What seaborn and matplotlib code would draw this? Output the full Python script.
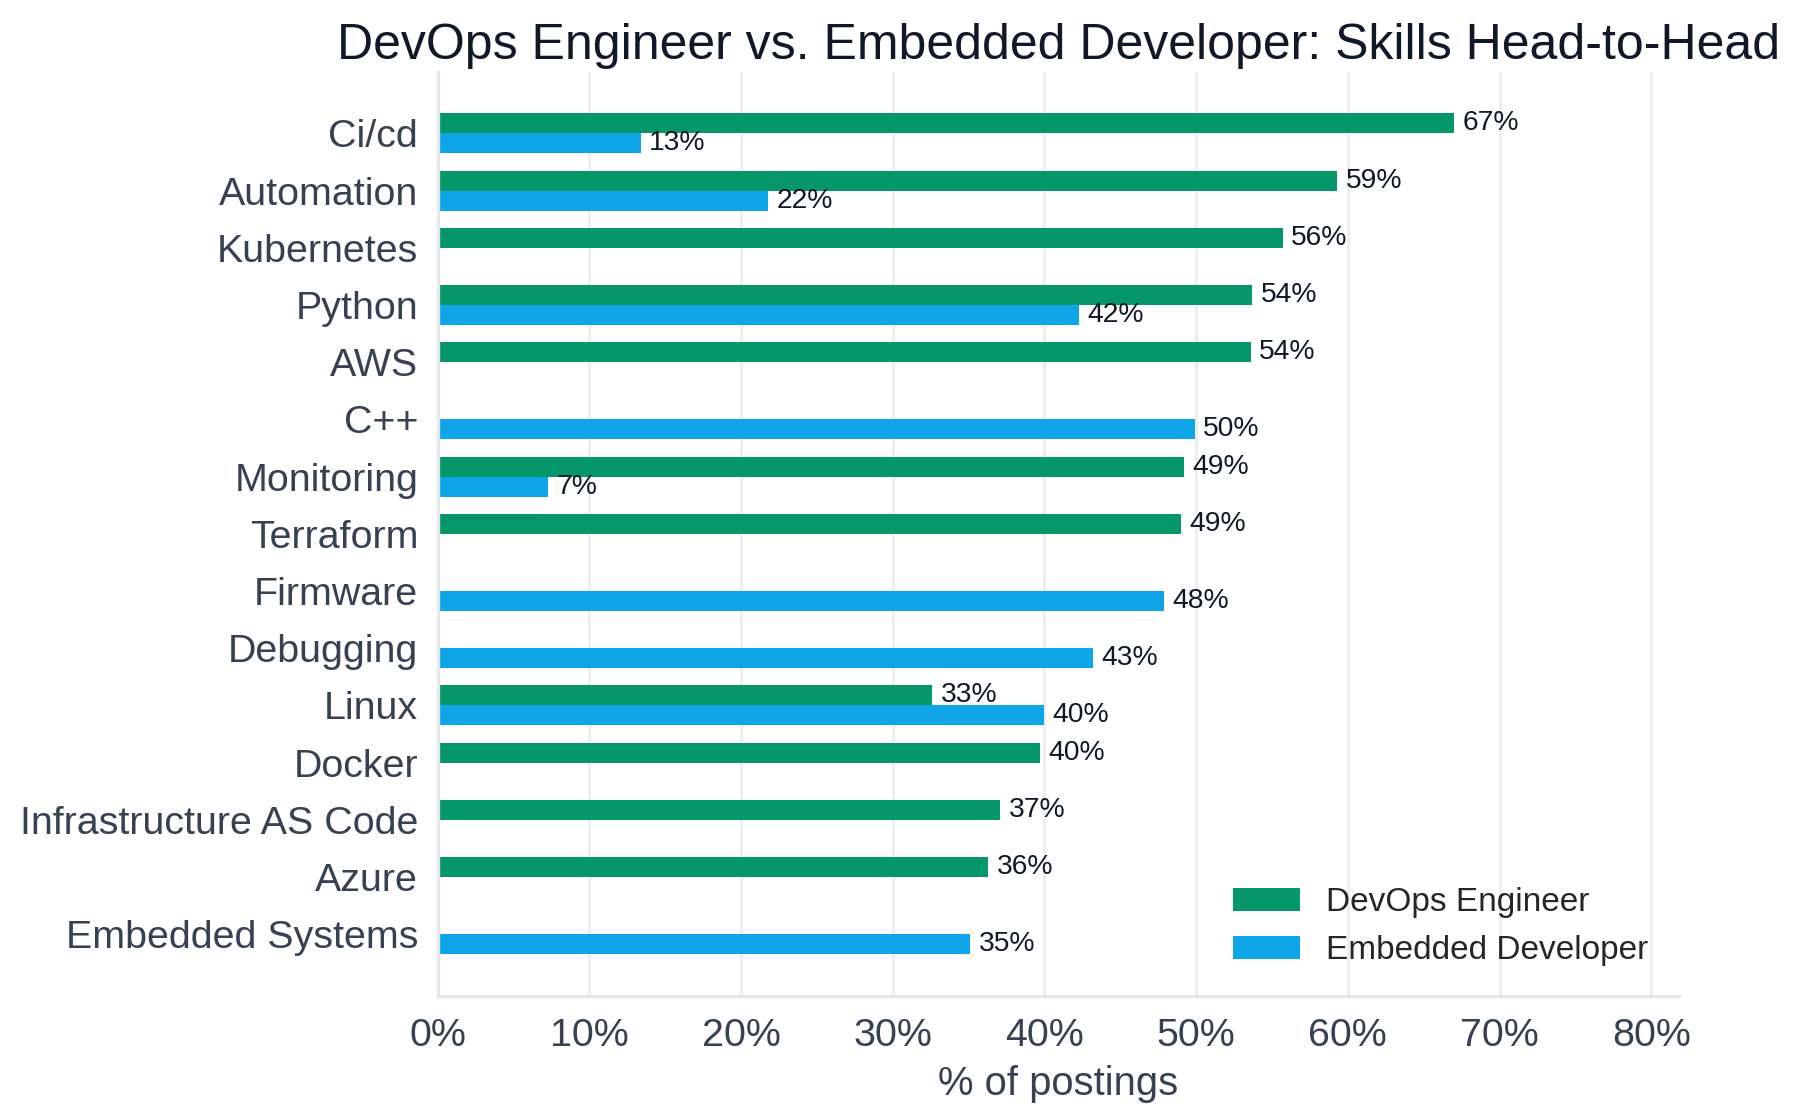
import matplotlib
matplotlib.use("Agg")
import matplotlib.pyplot as plt
from matplotlib.ticker import PercentFormatter
import numpy as np
import pandas as pd
import seaborn as sns

skills = [
    "Ci/cd", "Automation", "Kubernetes", "Python", "AWS", "C++",
    "Monitoring", "Terraform", "Firmware", "Debugging", "Linux",
    "Docker", "Infrastructure AS Code", "Azure", "Embedded Systems",
]
devops = [67.0, 59.3, 55.7, 53.7, 53.6, np.nan, 49.2, 49.0,
          np.nan, np.nan, 32.6, 39.7, 37.1, 36.3, np.nan]
embedded = [13.4, 21.8, np.nan, 42.3, np.nan, 49.9, 7.3, np.nan,
            47.9, 43.2, 40.0, np.nan, np.nan, np.nan, 35.1]
roles = ["DevOps Engineer", "Embedded Developer"]
colors = ["#059669", "#0ea5e9"]

df = pd.concat([
    pd.DataFrame({"skill": skills, "pct": devops, "role": roles[0]}),
    pd.DataFrame({"skill": skills, "pct": embedded, "role": roles[1]}),
]).dropna()

sns.set_theme(style="white")
plt.rcParams["font.family"] = ["Liberation Sans", "DejaVu Sans"]

fig, ax = plt.subplots(figsize=(9.005, 5.595), dpi=200)
fig.subplots_adjust(left=0.243, right=0.932, top=0.936, bottom=0.110)

sns.barplot(
    data=df, x="pct", y="skill", hue="role",
    order=skills, hue_order=roles, palette=colors,
    width=0.7, orient="h", ax=ax, saturation=1,
    linewidth=0, err_kws={"linewidth": 0},
)

# value labels at the end of each bar
for cont in ax.containers:
    ax.bar_label(cont, fmt="%.0f%%", padding=3, fontsize=10.2, color="#111827")

ax.set_xlim(0, 81.8)
ax.set_ylim(15.08, -1.08)
ax.xaxis.set_major_formatter(PercentFormatter(xmax=100, decimals=0))
ax.set_xticks(range(0, 81, 10))

ax.set_title("DevOps Engineer vs. Embedded Developer: Skills Head-to-Head",
             fontsize=18, color="#111827", pad=4.5)
ax.set_xlabel("% of postings", fontsize=14.4, color="#374151")
ax.set_ylabel("")

ax.tick_params(axis="both", labelsize=14.2, labelcolor="#374151", colors="#374151")
ax.tick_params(axis="x", length=6, width=0.8, pad=2)
ax.tick_params(axis="y", length=3.5, width=0.8)

ax.grid(axis="x", color="#ececec", linewidth=0.9)
ax.set_axisbelow(True)
for side in ["top", "right"]:
    ax.spines[side].set_visible(False)
for side in ["left", "bottom"]:
    ax.spines[side].set_color("#e5e7eb")
    ax.spines[side].set_linewidth(1.2)

ax.legend(loc="lower right", frameon=False, fontsize=12,
          handlelength=2.0, handleheight=0.7, title=None)

fig.savefig("out.png", dpi=200)
